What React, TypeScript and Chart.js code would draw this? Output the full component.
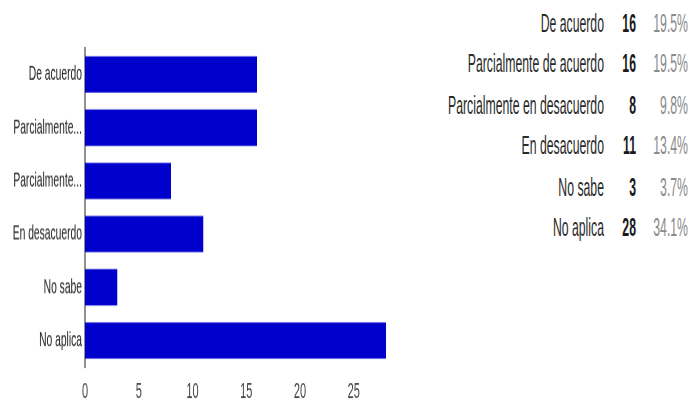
import React, { useEffect, useRef } from "react";
import { Chart, registerables } from "chart.js";

Chart.register(...registerables);

// Survey answers and their counts
const categories = [
  "De acuerdo",
  "Parcialmente de acuerdo",
  "Parcialmente en desacuerdo",
  "En desacuerdo",
  "No sabe",
  "No aplica",
];
const axisLabels = [
  "De acuerdo",
  "Parcialmente...",
  "Parcialmente...",
  "En desacuerdo",
  "No sabe",
  "No aplica",
];
const counts = [16, 16, 8, 11, 3, 28];
const percents = ["19.5%", "19.5%", "9.8%", "13.4%", "3.7%", "34.1%"];
const xTicks = [0, 5, 10, 15, 20, 25];

const FONT = '"Liberation Sans", Arial, Helvetica, sans-serif';
const STRETCH = 1.995; // the whole summary is drawn tall and narrow
const ROW_TOP = 1.5;
const ROW_STEP = 20.5;

function BarChart() {
  const ref = useRef<HTMLCanvasElement | null>(null);

  useEffect(() => {
    if (!ref.current) return;
    const chart = new Chart(ref.current, {
      type: "bar",
      data: {
        labels: axisLabels,
        datasets: [
          {
            data: counts,
            backgroundColor: "#0000cc",
            borderWidth: 0,
            barPercentage: 0.68,
            categoryPercentage: 1,
          },
        ],
      },
      options: {
        indexAxis: "y",
        animation: false,
        responsive: false,
        devicePixelRatio: 2,
        layout: { padding: { top: 24, right: 14, left: 0, bottom: 0 } },
        plugins: {
          legend: { display: false },
          tooltip: { enabled: false },
        },
        scales: {
          x: {
            min: 0,
            max: Math.max(...counts),
            afterBuildTicks: (scale: any) => {
              scale.ticks = xTicks.map((v) => ({ value: v }));
            },
            afterFit: (scale: any) => {
              scale.height = 26;
            },
            grid: { display: false, drawTicks: false },
            border: { display: false },
            ticks: {
              padding: 6,
              color: "#444",
              font: { family: FONT, size: 11 },
            },
          },
          y: {
            afterFit: (scale: any) => {
              scale.width = 85;
            },
            grid: { display: false, drawTicks: false },
            border: { display: true, color: "#222", width: 1 },
            ticks: {
              padding: 3,
              color: "#222",
              font: { family: FONT, size: 10.3 },
            },
          },
        },
      },
    });
    return () => chart.destroy();
  }, []);

  return (
    <canvas
      ref={ref}
      width={400}
      height={210}
      style={{ position: "absolute", left: 0, top: 0 }}
    />
  );
}

function SummaryTable() {
  return (
    <div style={{ position: "absolute", left: 400, top: 0, width: 291, height: 200 }}>
      {categories.map((c, i) => (
        <div
          key={c}
          style={{
            position: "absolute",
            left: 0,
            right: 0,
            top: ROW_TOP + i * ROW_STEP,
            height: 20,
            lineHeight: "20px",
            fontFamily: FONT,
            fontSize: 12.25,
            whiteSpace: "nowrap",
            transform: "scaleY(1.07)",
            transformOrigin: "50% 50%",
          }}
        >
          <span style={{ position: "absolute", right: 87, color: "#2a2a2a" }}>{c}</span>
          <span style={{ position: "absolute", right: 55, color: "#1a1a1a", fontWeight: "bold" }}>
            {counts[i]}
          </span>
          <span style={{ position: "absolute", right: 3, color: "#8a8a8a" }}>{percents[i]}</span>
        </div>
      ))}
    </div>
  );
}

export default function App() {
  return (
    <div
      style={{
        position: "fixed",
        left: 0,
        top: 0,
        width: 691,
        height: 200,
        overflow: "hidden",
        background: "#fff",
        transform: `scaleY(${STRETCH})`,
        transformOrigin: "0 0",
      }}
    >
      <BarChart />
      <SummaryTable />
    </div>
  );
}
